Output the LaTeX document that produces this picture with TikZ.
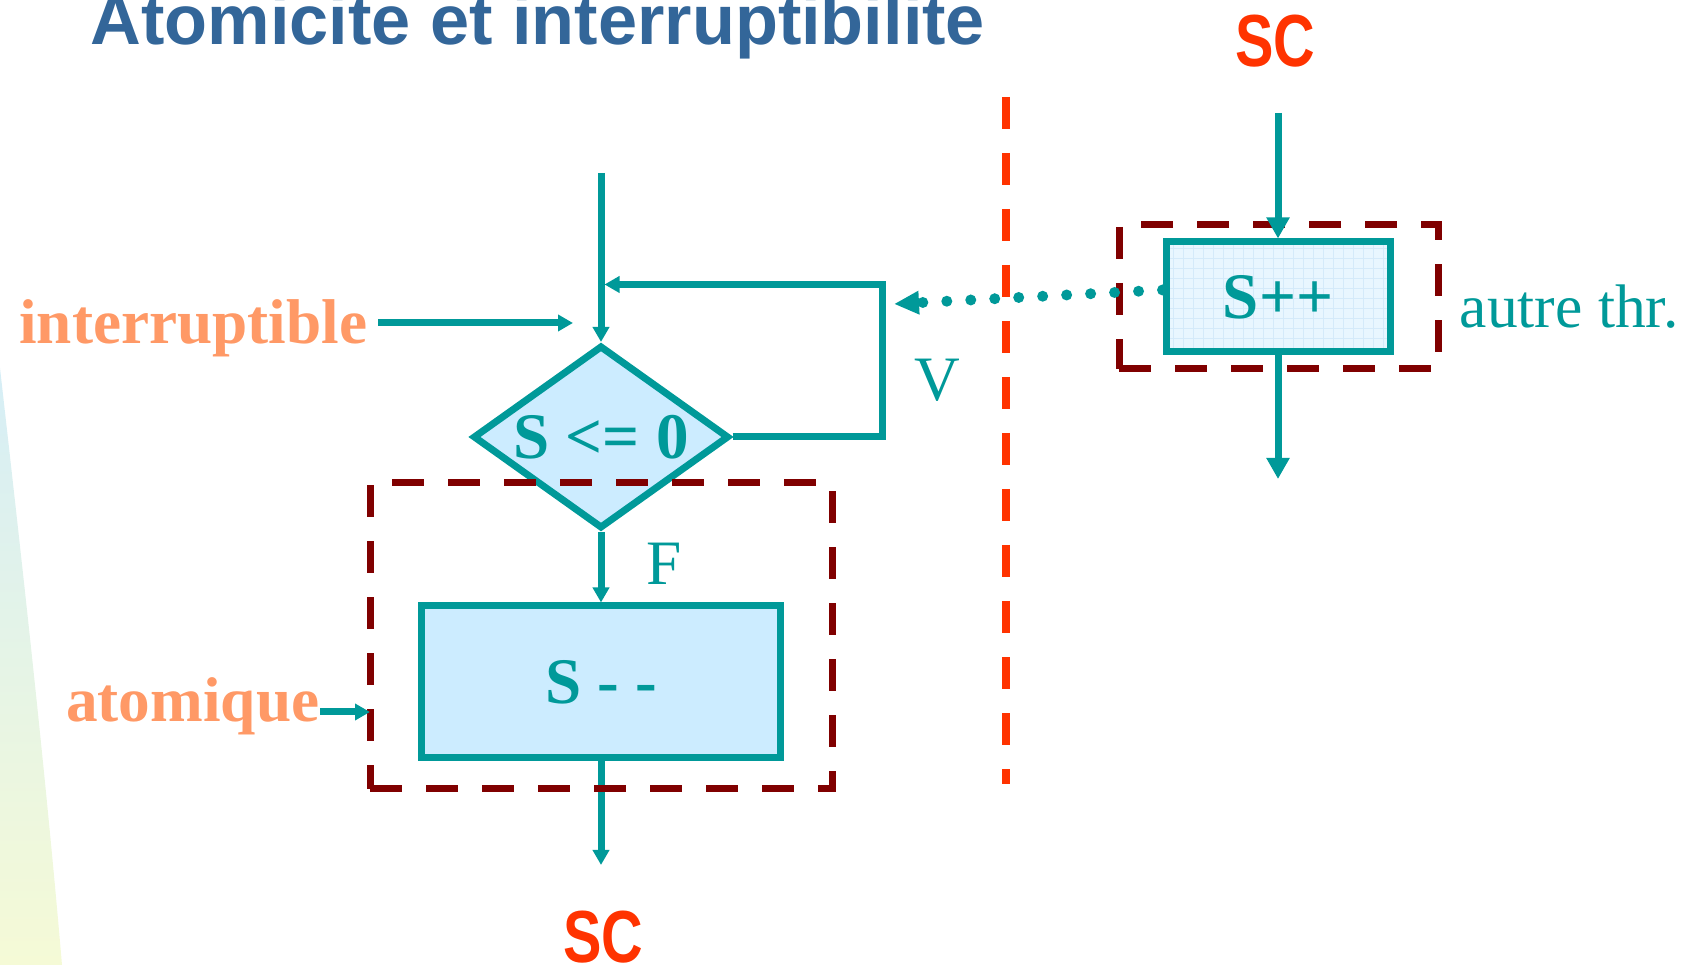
\documentclass[tikz,border=0pt]{standalone}
\usepackage{fontspec}
\setmainfont{Liberation Serif}
\newfontfamily\arialfont{Liberation Sans}
\usepackage{tikz}
\usetikzlibrary{arrows.meta,shapes.geometric,calc}

\definecolor{flowteal}{RGB}{0,153,153}
\definecolor{boxfill}{RGB}{204,236,255}
\definecolor{palefill}{RGB}{232,246,255}
\definecolor{gridblue}{RGB}{212,234,250}
\definecolor{zonered}{RGB}{128,0,0}
\definecolor{scred}{RGB}{255,51,0}
\definecolor{notesalmon}{RGB}{255,153,102}
\definecolor{titleblue}{RGB}{51,102,153}
\definecolor{bandcyan}{RGB}{214,238,246}
\definecolor{bandyellow}{RGB}{245,250,214}

\begin{document}
\begin{tikzpicture}[every node/.style={inner sep=0pt},
  flow/.style={draw=flowteal, line width=0.07cm},
  arr/.style={flow, -{Triangle[length=0.15cm,width=0.16cm]}},
  bigarr/.style={flow, -{Triangle[length=0.21cm,width=0.22cm]}},
  zone/.style={draw=zonered, line width=0.07cm, dash pattern=on 0.32cm off 0.24cm},
  sepline/.style={draw=scred, line width=0.08cm, dash pattern=on 0.32cm off 0.24cm},
  opbox/.style={flow, rectangle, fill=boxfill, text=flowteal, font=\fontsize{18.5}{21}\selectfont\bfseries},
  note/.style={text=notesalmon, font=\fontsize{18}{21}\selectfont\bfseries},
  lbl/.style={text=flowteal, font=\fontsize{18}{21}\selectfont},
  sc/.style={text=scred, font=\arialfont\fontsize{21}{24}\selectfont\bfseries, xscale=0.78}]
  \useasboundingbox (0,0) rectangle (16.95,9.65);
  % ---- slide background band and title
  \shade[top color=bandcyan, bottom color=bandyellow]
    (0,5.97) .. controls (0.2,4.2) and (0.45,2.0) .. (0.62,0) -- (0,0) -- cycle;
  \node[anchor=base west, text=titleblue, font=\arialfont\fontsize{20}{24}\selectfont\bfseries]
    (title) at (0.90,9.20) {Atomicite et interruptibilite};
  % ---- separation between the two threads
  \draw[sepline] (10.06,8.68) -- (10.06,1.81);
  % ---- P(S): test then decrement
  \coordinate (lin) at (6.01,7.92);
  \coordinate (loop) at (8.82,6.805);
  \coordinate (lout) at (6.01,1.00);
  \node[opbox, shape=diamond, aspect=1.45, minimum width=2.56cm, minimum height=1.83cm] (test) at (6.01,5.28) {S <= 0};
  \node[opbox, minimum width=3.59cm, minimum height=1.52cm] (dec) at (6.01,2.83) {S - -};
  \draw[arr] (lin) -- (test.north);
  \draw[arr] (test.east) -| (loop) -- ([xshift=0.035cm]loop -| test.north);
  \draw[arr] (test.south) -- (dec.north);
  \draw[arr] (dec.south) -- (lout);
  \node[lbl] (vlab) at (9.37,5.85) {V};
  \node[lbl] (flab) at (6.64,4.01) {F};
  \node[zone, minimum width=4.62cm, minimum height=3.06cm] (atomzone) at (6.01,3.29) {};
  % ---- notes on the left
  \coordinate (ientry) at (5.73,6.42);
  \coordinate (aentry) at (3.70,2.53);
  \node[note, anchor=base east] (interr) at (3.68,6.21) {interruptible};
  \node[note, anchor=base east] (atom) at (3.20,2.43) {atomique};
  \draw[arr] ($(interr.east |- ientry)+(0.1,0)$) -- (ientry);
  \draw[arr] (atom.east |- aentry) -- (aentry);
  \node[sc] (scbot) at (6.035,0.28) {SC};
  % ---- V(S) in the other thread
  \coordinate (rin) at (12.78,8.52);
  \coordinate (rout) at (12.78,4.86);
  \coordinate (vtip) at (8.94,6.61);
  \node[sc] (sctop) at (12.75,9.235) {SC};
  \node[zone, minimum width=3.19cm, minimum height=1.44cm] (otherzone) at (12.785,6.68) {};
  \node[opbox, fill=palefill, minimum width=2.24cm, minimum height=1.10cm,
    path picture={\draw[gridblue, line width=0.2pt, step=0.1cm]
      (path picture bounding box.south west) grid (path picture bounding box.north east);}]
    (inc) at (12.78,6.68) {S++};
  \draw[bigarr] (rin) -- (inc.north);
  \draw[bigarr] (inc.south) -- (rout);
  \node[lbl, anchor=base west, font=\fontsize{17.5}{21}\selectfont] (other) at (14.59,6.37) {autre thr.};
  \draw[draw=flowteal, line width=0.11cm, line cap=round, dash pattern=on 0pt off 0.24cm,
    -{Triangle[length=0.25cm,width=0.22cm]}] ([yshift=0.07cm]inc.west) -- (vtip);
\end{tikzpicture}
\end{document}
